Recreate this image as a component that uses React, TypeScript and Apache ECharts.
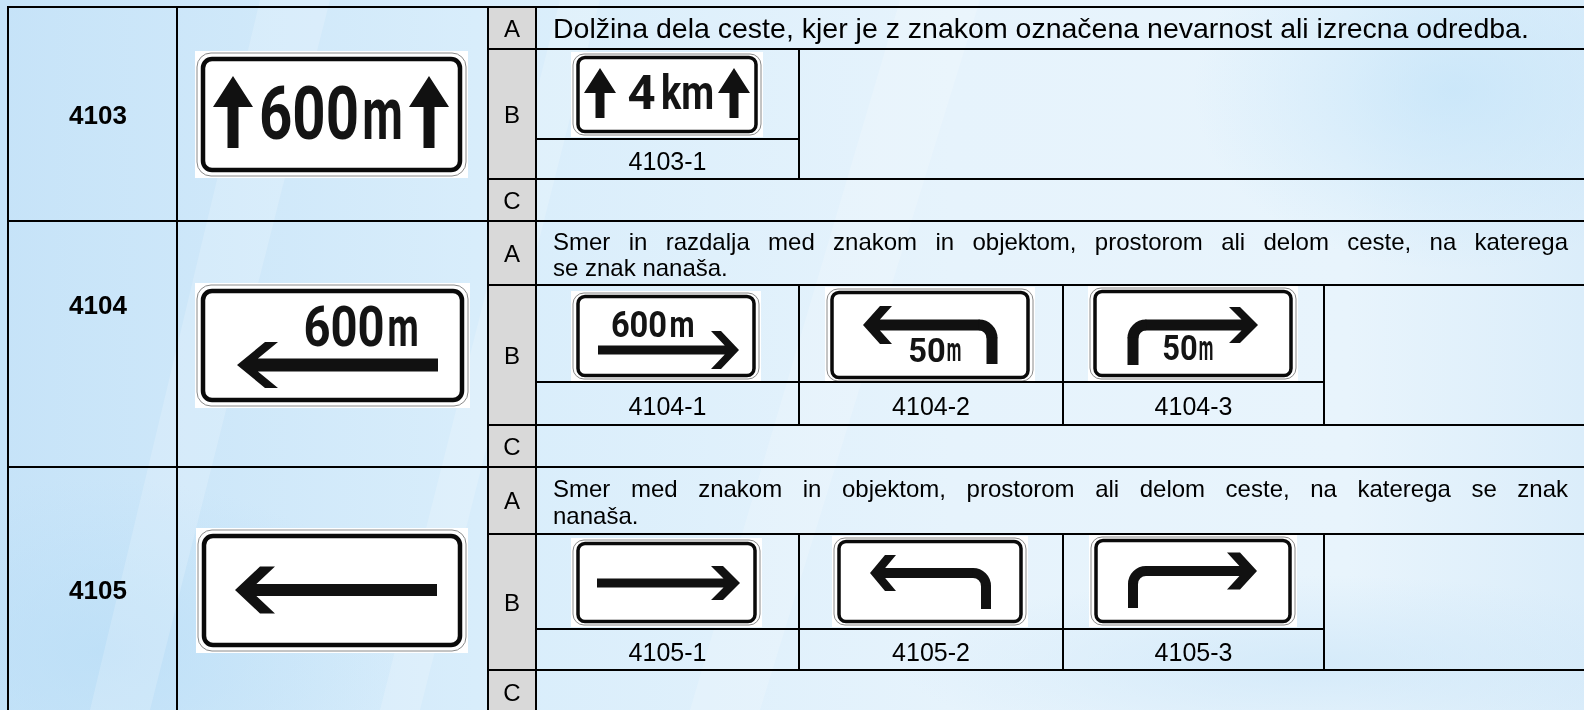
import React, { useEffect, useRef } from "react";
import * as echarts from "echarts";

// ---------- data ----------
const codes = ["4103", "4104", "4105"];
const rowLetters = ["A", "B", "C"];
const descriptions: string[][] = [
  ["Dolžina dela ceste, kjer je z znakom označena nevarnost ali izrecna odredba."],
  ["Smer in razdalja med znakom in objektom, prostorom ali delom ceste, na katerega", "se znak nanaša."],
  ["Smer med znakom in objektom, prostorom ali delom ceste, na katerega se znak", "nanaša."],
];
const variantLabels: string[][] = [
  ["4103-1"],
  ["4104-1", "4104-2", "4104-3"],
  ["4105-1", "4105-2", "4105-3"],
];
const mainSignTexts: string[][] = [["600", "m"], ["600", "m"], []];
const variantSignTexts: string[][][] = [
  [["4", "km"]],
  [["600", "m"], ["50", "m"], ["50", "m"]],
  [[], [], []],
];

// ---------- layout ----------
const W = 1584;
const H = 710;
const X_L = 8, X_C1 = 177, X_C2 = 488, X_C3 = 536, X_R = 1584;
const DIVS = [799, 1063, 1324];
const ROWS = [
  { top: 7, ab: 49, sub: 139, c: 179, bottom: 221, codeY: 115, aLines: [28], descFont: 28.5 },
  { top: 221, ab: 285, sub: 382, c: 425, bottom: 467, codeY: 305, aLines: [241, 267], descFont: 24 },
  { top: 467, ab: 534, sub: 629, c: 670, bottom: 714, codeY: 590, aLines: [488, 515], descFont: 24 },
];
const TXT = "Liberation Sans, Arial, sans-serif";
const SIGN_FONT = "Roboto";

let mctx: CanvasRenderingContext2D | null = null;
function measure(text: string, font: string) {
  if (!mctx) mctx = document.createElement("canvas").getContext("2d");
  mctx!.font = font;
  return mctx!.measureText(text).width;
}

function txt(text: string, x: number, y: number, size: number, align = "center", bold = false): any {
  return {
    type: "text",
    x,
    y,
    style: {
      text,
      fontSize: size,
      fontFamily: TXT,
      fontWeight: bold ? "bold" : "normal",
      fill: "#000",
      align,
      textAlign: align,
      verticalAlign: "middle",
      textVerticalAlign: "middle",
    },
  };
}

function justified(line: string, xL: number, xR: number, y: number, size: number) {
  const words = line.split(" ");
  const font = `${size}px "Liberation Sans"`;
  const ws = words.map((w) => measure(w, font));
  const total = ws.reduce((a, b) => a + b, 0);
  const gap = words.length > 1 ? (xR - xL - total) / (words.length - 1) : 0;
  let x = xL;
  return words.map((w, i) => {
    const el = txt(w, x, y, size, "left");
    x += ws[i] + gap;
    return el;
  });
}

function signText(str: string, l: number, r: number, t: number, b: number): any {
  const fs = (b - t) / 0.711;
  const w = measure(str, `bold ${fs}px ${SIGN_FONT}`);
  const sx = (r - l) / (w * 0.96);
  return {
    type: "text",
    x: l - 0.02 * w * sx,
    y: (t + b) / 2,
    scaleX: sx,
    style: {
      text: str,
      fontSize: fs,
      fontFamily: SIGN_FONT,
      fontWeight: "bold",
      fill: "#141414",
      align: "left",
      textAlign: "left",
      verticalAlign: "middle",
      textVerticalAlign: "middle",
    },
  };
}

function frame(x0: number, y0: number, x1: number, y1: number, big: boolean): any[] {
  const w = x1 - x0, h = y1 - y0;
  const g = 2;
  const ix = big ? 8 : 7, iy = big ? 8 : 5.5;
  return [
    { type: "rect", shape: { x: x0, y: y0, width: w, height: h }, style: { fill: "#fff" } },
    {
      type: "rect",
      shape: { x: x0 + g, y: y0 + g, width: w - 2 * g, height: h - 2 * g, r: big ? 14 : 11 },
      style: { fill: "#fff", stroke: "#8a8a8a", lineWidth: 1 },
    },
    {
      type: "rect",
      shape: { x: x0 + ix, y: y0 + iy, width: w - 2 * ix, height: h - 2 * iy, r: big ? 9 : 7 },
      style: { fill: "none", stroke: "#0a0a0a", lineWidth: big ? 4.5 : 3.5 },
    },
  ];
}

const BLACK = "#111";
function poly(points: number[][]): any {
  return { type: "polygon", shape: { points }, style: { fill: BLACK } };
}

function upArrow(cx: number, top: number, base: number, bottom: number, hw: number, sw: number) {
  return poly([
    [cx, top],
    [cx + hw, base],
    [cx + sw, base],
    [cx + sw, bottom],
    [cx - sw, bottom],
    [cx - sw, base],
    [cx - hw, base],
  ]);
}

function hArrow(tipX: number, cy: number, tailX: number, sh: number, hh: number, oDx: number, iDx: number) {
  const s = tailX > tipX ? 1 : -1;
  const jDx = iDx - ((hh - sh) * oDx) / hh;
  return poly([
    [tipX, cy],
    [tipX + s * oDx, cy - hh],
    [tipX + s * iDx, cy - hh],
    [tipX + s * jDx, cy - sh],
    [tailX, cy - sh],
    [tailX, cy + sh],
    [tipX + s * jDx, cy + sh],
    [tipX + s * iDx, cy + hh],
    [tipX + s * oDx, cy + hh],
  ]);
}

// bent arrow: horizontal head at tipX, corner at (vx, cy), vertical going down to bottom
function bentArrow(tipX: number, cy: number, vx: number, bottom: number, sh: number, hh: number, oDx: number, iDx: number, r: number) {
  const s = vx > tipX ? 1 : -1;
  const arcCx = vx - s * r;
  const arcCy = cy + r;
  const els: any[] = [hArrow(tipX, cy, arcCx + s * 0.6, sh, hh, oDx, iDx)];
  els.push({
    type: "arc",
    shape: s > 0
      ? { cx: arcCx, cy: arcCy, r, startAngle: -Math.PI / 2 - 0.02, endAngle: 0.02, clockwise: true }
      : { cx: arcCx, cy: arcCy, r, startAngle: Math.PI - 0.02, endAngle: Math.PI * 1.5 + 0.02, clockwise: true },
    style: { fill: "none", stroke: BLACK, lineWidth: 2 * sh },
  });
  els.push({ type: "rect", shape: { x: vx - sh, y: arcCy - 0.6, width: 2 * sh, height: bottom - arcCy + 0.6 }, style: { fill: BLACK } });
  return els;
}

function buildSigns(): any[] {
  const e: any[] = [];
  // 4103 main
  e.push(...frame(195, 51, 468, 178, true));
  e.push(upArrow(233, 76, 107, 148, 20, 5.5));
  e.push(upArrow(429, 76, 107, 148, 20, 5.5));
  e.push(signText(mainSignTexts[0][0], 261, 357, 87, 140));
  e.push(signText(mainSignTexts[0][1], 363, 402, 87, 140));
  // 4104 main
  e.push(...frame(195, 283, 470, 408, true));
  e.push(hArrow(237, 365, 438, 6.5, 23, 28, 41));
  e.push(signText(mainSignTexts[1][0], 305, 383, 307, 347));
  e.push(signText(mainSignTexts[1][1], 388, 418, 307, 347));
  // 4105 main
  e.push(...frame(196, 528, 468, 653, true));
  e.push(hArrow(235, 590, 437, 6, 23.5, 25, 40));

  // 4103-1
  e.push(...frame(571, 52, 763, 137, false));
  e.push(upArrow(600, 68, 93, 118, 16, 4.5));
  e.push(upArrow(734, 68, 93, 118, 16, 4.5));
  e.push(signText(variantSignTexts[0][0][0], 628, 655, 76, 110));
  e.push(signText(variantSignTexts[0][0][1], 662, 713, 76, 110));

  const d4 = -2;
  // 4104-1
  e.push(...frame(571, 293 + d4, 761, 383 + d4, false));
  e.push(hArrow(739, 352 + d4, 598, 4.5, 19, 18, 28));
  e.push(signText(variantSignTexts[1][0][0], 612, 666, 313 + d4, 339 + d4));
  e.push(signText(variantSignTexts[1][0][1], 670, 694, 313 + d4, 339 + d4));
  // 4104-2
  e.push(...frame(825, 289 + d4, 1035, 387 + d4 - 2, false));
  e.push(...bentArrow(863, 327 + d4, 992, 366 + d4, 5.5, 19, 17, 29, 13));
  e.push(signText(variantSignTexts[1][1][0], 909, 945, 340 + d4, 364 + d4));
  e.push(signText(variantSignTexts[1][1][1], 947, 961, 340 + d4, 364 + d4));
  // 4104-3
  e.push(...frame(1088, 287 + d4 + 1, 1298, 383 + d4, false));
  e.push(...bentArrow(1258, 327 + d4, 1133, 367 + d4, 5.5, 18, 18, 29, 13));
  e.push(signText(variantSignTexts[1][2][0], 1163, 1197, 337 + d4, 362 + d4));
  e.push(signText(variantSignTexts[1][2][1], 1199, 1213, 337 + d4, 362 + d4));

  // 4105-1
  e.push(...frame(571, 538, 762, 627, false));
  e.push(hArrow(740, 583, 597, 4.5, 17, 17, 29));
  // 4105-2
  e.push(...frame(832, 536, 1028, 627, false));
  e.push(...bentArrow(870, 573, 986, 609, 5, 18, 15, 26, 13));
  // 4105-3
  e.push(...frame(1089, 535, 1297, 627, false));
  e.push(...bentArrow(1257, 571, 1133, 608, 5, 18.5, 17, 30, 13));
  return e;
}

function hLine(x1: number, x2: number, y: number): any {
  return { type: "line", shape: { x1, y1: y, x2, y2: y }, style: { stroke: "#000", lineWidth: 2 } };
}
function vLine(x: number, y1: number, y2: number): any {
  return { type: "line", shape: { x1: x, y1, x2: x, y2 }, style: { stroke: "#000", lineWidth: 2 } };
}

function buildAll(): any[] {
  const els: any[] = [];
  // background
  els.push({
    type: "rect",
    shape: { x: 0, y: 0, width: W, height: H },
    style: {
      fill: new echarts.graphic.LinearGradient(0, 0, 1, 0, [
        { offset: 0, color: "#c6e3f8" },
        { offset: 0.3, color: "#d8edfb" },
        { offset: 0.6, color: "#e6f3fc" },
        { offset: 0.85, color: "#e8f4fc" },
        { offset: 1, color: "#dbedfa" },
      ]),
    },
  });
  els.push({
    type: "rect",
    shape: { x: 1150, y: 0, width: 434, height: 300 },
    style: {
      fill: new echarts.graphic.RadialGradient(0.7, 0.3, 0.6, [
        { offset: 0, color: "rgba(196,228,249,0.75)" },
        { offset: 1, color: "rgba(196,228,249,0)" },
      ]),
    },
  });
  els.push({
    type: "rect",
    shape: { x: 0, y: 420, width: 500, height: 290 },
    style: {
      fill: new echarts.graphic.RadialGradient(0.2, 0.8, 0.6, [
        { offset: 0, color: "rgba(186,222,247,0.7)" },
        { offset: 1, color: "rgba(186,222,247,0)" },
      ]),
    },
  });
  els.push({
    type: "rect",
    shape: { x: 900, y: 560, width: 684, height: 150 },
    style: {
      fill: new echarts.graphic.RadialGradient(0.6, 0.7, 0.6, [
        { offset: 0, color: "rgba(200,228,248,0.6)" },
        { offset: 1, color: "rgba(200,228,248,0)" },
      ]),
    },
  });
  // soft diagonal streaks
  const streaks = [
    [[260, 0], [330, 0], [150, 710], [90, 710]],
    [[560, 0], [600, 0], [420, 710], [380, 710]],
    [[900, 0], [980, 0], [760, 710], [690, 710]],
  ];
  streaks.forEach((p) =>
    els.push({ type: "polygon", shape: { points: p }, style: { fill: "rgba(255,255,255,0.18)" } })
  );

  // gray letter column
  els.push({ type: "rect", shape: { x: X_C2, y: ROWS[0].top, width: X_C3 - X_C2, height: H - ROWS[0].top }, style: { fill: "#d9d9d9" } });

  // signs
  els.push(...buildSigns());

  // grid lines
  els.push(hLine(X_L - 1, X_R, ROWS[0].top));
  ROWS.forEach((r, i) => {
    els.push(hLine(X_L - 1, X_R, r.bottom));
    els.push(hLine(X_C2, X_R, r.ab));
    els.push(hLine(X_C2, X_R, r.c));
    const nVar = variantLabels[i].length;
    els.push(hLine(X_C3, DIVS[nVar - 1], r.sub));
    for (let k = 0; k < nVar; k++) els.push(vLine(DIVS[k], r.ab, r.c));
  });
  [X_L, X_C1, X_C2, X_C3].forEach((x) => els.push(vLine(x, ROWS[0].top - 1, H)));

  // texts
  const letterX = (X_C2 + X_C3) / 2;
  ROWS.forEach((r, i) => {
    els.push(txt(codes[i], 98, r.codeY, 26, "center", true));
    els.push(txt(rowLetters[0], letterX, (r.top + r.ab) / 2, 24));
    els.push(txt(rowLetters[1], letterX, (r.ab + r.c) / 2, 24));
    els.push(txt(rowLetters[2], letterX, (r.c + r.bottom) / 2, 24));
    const lines = descriptions[i];
    lines.forEach((ln, j) => {
      const y = r.aLines[j];
      if (j < lines.length - 1) els.push(...justified(ln, 553, 1568, y, r.descFont));
      else els.push(txt(ln, 553, y, r.descFont, "left"));
    });
    const labY = (r.sub + r.c) / 2 + 2;
    variantLabels[i].forEach((lab, k) => {
      const xl = k === 0 ? X_C3 : DIVS[k - 1];
      const xr = DIVS[k];
      els.push(txt(lab, (xl + xr) / 2, labY, 25));
    });
  });
  return els;
}

export default function App() {
  const ref = useRef<HTMLDivElement>(null);
  useEffect(() => {
    if (!ref.current) return;
    const chart = echarts.init(ref.current, undefined, { renderer: "svg" });
    chart.setOption({ animation: false, graphic: { elements: buildAll() } });
    return () => chart.dispose();
  }, []);
  return <div ref={ref} style={{ position: "fixed", left: 0, top: 0, width: W, height: H }} />;
}
